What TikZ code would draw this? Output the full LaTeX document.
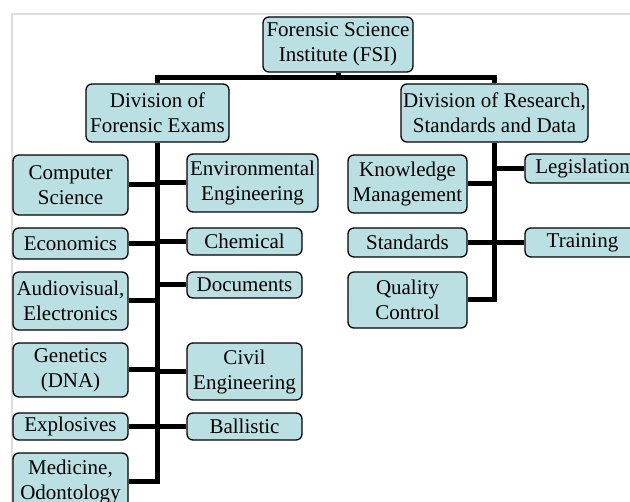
\documentclass[tikz,border=0pt]{standalone}
\usepackage{fontspec}
\setmainfont{Liberation Serif}
\usetikzlibrary{positioning,calc}
\definecolor{BoxTeal}{RGB}{186,224,227}
\definecolor{FrameGray}{RGB}{221,221,221}

\begin{document}
\begin{tikzpicture}[
    x=1pt,y=-1pt,
    unit/.style={draw,fill=BoxTeal,rounded corners=6pt,line width=1.3pt,inner sep=0pt,align=center,minimum width=115pt,font=\fontsize{21}{25}\selectfont},
    twoline/.style={unit,minimum height=57pt},
    oneline/.style={unit,minimum height=28pt},
    link/.style={line width=5pt}
  ]
    \useasboundingbox (0,0) rectangle (630,502);
    \clip (0,0) rectangle (630,502);
    \draw[FrameGray,line width=2pt] (12,502) -- (12,14) -- (630,14);

    \node[twoline,minimum width=150pt,minimum height=55pt] (fsi) at (338,44.5) {Forensic Science\\Institute (FSI)};
    \node[twoline,minimum width=143pt,minimum height=58pt] (divF) at (157.5,113) {Division of\\Forensic Exams};
    \node[twoline,minimum width=187pt,minimum height=58pt] (divR) at (494.5,113) {Division of Research,\\Standards and Data};

    \node[twoline,minimum height=60pt] (cs) at (70.5,185) {Computer\\Science};
    \node[oneline,minimum height=31pt] (eco) at (70.5,243.5) {Economics};
    \node[twoline,minimum height=58pt] (av) at (70.5,301) {Audiovisual,\\Electronics};
    \node[twoline,minimum height=54pt] (gen) at (70.5,370) {Genetics\\(DNA)};
    \node[oneline,minimum height=27pt] (exp) at (70.5,426.5) {Explosives};
    \node[twoline,minimum height=58pt] (med) at (70.5,482) {Medicine,\\Odontology};

    \node[twoline,minimum width=131pt,minimum height=58pt] (env) at (252.5,183) {Environmental\\Engineering};
    \node[oneline,minimum height=27pt] (chem) at (244.5,241.5) {Chemical};
    \node[oneline,minimum height=26pt] (doc) at (244.5,285) {Documents};
    \node[twoline,minimum height=57pt] (civ) at (244.5,371.5) {Civil\\Engineering};
    \node[oneline,minimum height=27pt] (bal) at (244.5,426.5) {Ballistic};

    \node[twoline,minimum width=119pt,minimum height=58pt] (km) at (407.5,184) {Knowledge\\Management};
    \node[oneline,minimum width=119pt,minimum height=29pt] (std) at (407.5,242.5) {Standards};
    \node[twoline,minimum width=119pt,minimum height=56pt] (qc) at (407.5,300) {Quality\\Control};
    \node[oneline,minimum height=29pt] (leg) at (582.5,168.5) {Legislation};
    \node[oneline,minimum height=29pt] (trn) at (582.5,242.5) {Training};

    \path (divF.north) ++(0,-6) coordinate (barL);
    \draw[link] (fsi.south) -- (fsi.south |- barL);
    \draw[link] (divF.north) -- (barL) -| (divR.north);

    \draw[link] (divF.south) -- (divF.south |- med.east) -- (med.east);
    \draw[link] (cs.east) -- (divF.south |- cs.east);
    \draw[link] (eco.east) -- (divF.south |- eco.east);
    \draw[link] (av.east) -- (divF.south |- av.east);
    \draw[link] (gen.east) -- (divF.south |- gen.east);
    \draw[link] (exp.east) -- (divF.south |- exp.east);
    \draw[link] (env.west) -- (divF.south |- env.west);
    \draw[link] (chem.west) -- (divF.south |- chem.west);
    \draw[link] (doc.west) -- (divF.south |- doc.west);
    \draw[link] (civ.west) -- (divF.south |- civ.west);
    \draw[link] (bal.west) -- (divF.south |- bal.west);

    \draw[link] (divR.south) -- (divR.south |- qc.east) -- (qc.east);
    \draw[link] (km.east) -- (divR.south |- km.east);
    \draw[link] (std.east) -- (divR.south |- std.east);
    \draw[link] (leg.west) -- (divR.south |- leg.west);
    \draw[link] (trn.west) -- (divR.south |- trn.west);
  \end{tikzpicture}
\end{document}
